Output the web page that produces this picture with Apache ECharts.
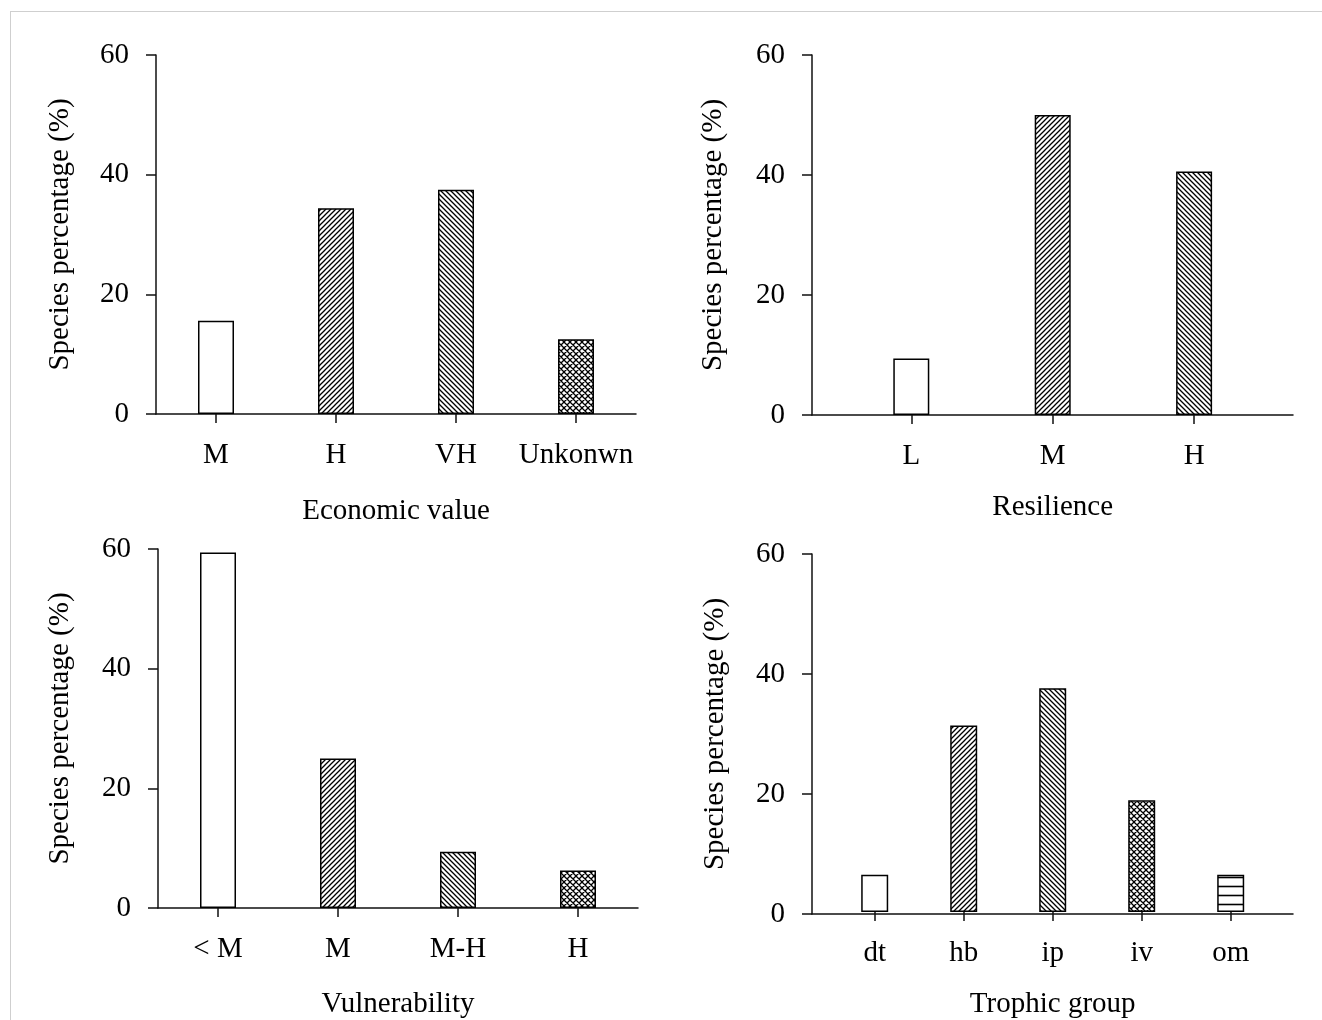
<!DOCTYPE html>
<html><head><meta charset="utf-8">
<script src="https://cdn.jsdelivr.net/npm/echarts@6/dist/echarts.min.js"></script>
<style>
html,body{margin:0;padding:0;background:#fff;overflow:hidden;}
#frame{position:absolute;left:10px;top:11px;width:1320px;height:1020px;border-left:1px solid #cfcfcf;border-top:1px solid #cfcfcf;}
#chart{position:absolute;left:0;top:0;width:1322px;height:1020px;}
</style></head><body>
<div id="frame"></div><div id="chart"></div>
<script>
// ---- data ----
const econCategories = ['M', 'H', 'VH', 'Unkonwn'];
const econValues = [15.6, 34.4, 37.5, 12.5];
const resCategories = ['L', 'M', 'H'];
const resValues = [9.4, 50.0, 40.6];
const vulCategories = ['< M', 'M', 'M-H', 'H'];
const vulValues = [59.4, 25.0, 9.4, 6.25];
const troCategories = ['dt', 'hb', 'ip', 'iv', 'om'];
const troValues = [6.25, 31.25, 37.5, 18.75, 6.25];
const yMin = 0, yMax = 60, yStep = 20;
const yName = 'Species percentage (%)';
const xNames = ['Economic value', 'Resilience', 'Vulnerability', 'Trophic group'];

// ---- patterns ----
function makePattern(kind) {
  const s = kind === 'h' ? 9 : (kind === 'x' ? 6 : 5);
  const c = document.createElement('canvas');
  c.width = s; c.height = s;
  const g = c.getContext('2d');
  g.fillStyle = '#fff'; g.fillRect(0, 0, s, s);
  if (kind === 'none') return c;
  g.strokeStyle = '#000'; g.lineWidth = 1.3; g.beginPath();
  if (kind === 'f' || kind === 'x') {
    g.moveTo(-1, s + 1); g.lineTo(s + 1, -1);
    g.moveTo(-1, 1); g.lineTo(1, -1);
    g.moveTo(s - 1, s + 1); g.lineTo(s + 1, s - 1);
  }
  if (kind === 'b' || kind === 'x') {
    g.moveTo(-1, -1); g.lineTo(s + 1, s + 1);
    g.moveTo(-1, s - 1); g.lineTo(1, s + 1);
    g.moveTo(s - 1, -1); g.lineTo(s + 1, 1);
  }
  if (kind === 'h') {
    g.lineWidth = 1.6;
    g.moveTo(0, s / 2); g.lineTo(s, s / 2);
  }
  g.stroke();
  return c;
}
const patternKinds = ['none', 'f', 'b', 'x', 'h'];
const patterns = patternKinds.map(k => ({ image: makePattern(k), repeat: 'repeat' }));

const font = 'Liberation Serif';
const fs = 29;
const lineStyle = { color: '#111', width: 1.5 };

const panels = [
  { cats: econCategories, vals: econValues, name: xNames[0],
    outer: { left: 156, top: 55, width: 480, height: 359 }, inner: { left: 156, width: 480 }, barW: 36, xGap: 83, yGap: 81 },
  { cats: resCategories, vals: resValues, name: xNames[1],
    outer: { left: 812, top: 55, width: 481, height: 360 }, inner: { left: 840.6, width: 424.2 }, barW: 36, xGap: 78, yGap: 84 },
  { cats: vulCategories, vals: vulValues, name: xNames[2],
    outer: { left: 158, top: 549, width: 480, height: 359 }, inner: { left: 158, width: 480 }, barW: 36, xGap: 82, yGap: 83 },
  { cats: troCategories, vals: troValues, name: xNames[3],
    outer: { left: 812, top: 554, width: 481, height: 360 }, inner: { left: 830.2, width: 445 }, barW: 27, xGap: 78, yGap: 82 }
];

const grid = [], xAxis = [], yAxis = [], series = [];
panels.forEach((p, i) => {
  const go = grid.length;
  grid.push({ left: p.outer.left, top: p.outer.top, width: p.outer.width, height: p.outer.height });
  grid.push({ left: p.inner.left, top: p.outer.top, width: p.inner.width, height: p.outer.height });
  // outer: axis frame + y axis
  xAxis.push({ gridIndex: go, type: 'value', min: 0, max: 1,
    axisLine: { show: true, lineStyle }, axisTick: { show: false }, axisLabel: { show: false }, splitLine: { show: false } });
  yAxis.push({ gridIndex: go, type: 'value', min: yMin, max: yMax, interval: yStep,
    axisLine: { show: true, lineStyle }, axisTick: { show: true, inside: false, length: 10, lineStyle },
    axisLabel: { margin: 27, color: '#000', fontSize: fs, fontFamily: font },
    splitLine: { show: false },
    name: yName, nameLocation: 'middle', nameGap: p.yGap,
    nameTextStyle: { color: '#000', fontSize: fs, fontFamily: font } });
  // inner: categories and bars
  xAxis.push({ gridIndex: go + 1, type: 'category', data: p.cats,
    axisLine: { show: false }, axisTick: { show: true, alignWithLabel: true, length: 9, lineStyle },
    axisLabel: { margin: 27, color: '#000', fontSize: fs, fontFamily: font, interval: 0 },
    splitLine: { show: false },
    name: p.name, nameLocation: 'middle', nameGap: p.xGap,
    nameTextStyle: { color: '#000', fontSize: fs, fontFamily: font } });
  yAxis.push({ gridIndex: go + 1, type: 'value', min: yMin, max: yMax, show: false });
  series.push({ type: 'bar', xAxisIndex: go + 1, yAxisIndex: go + 1, barWidth: p.barW,
    itemStyle: { borderColor: '#000', borderWidth: 1.5 },
    data: p.vals.map((v, k) => ({ value: v, itemStyle: { color: patterns[k] } })) });
});

const chart = echarts.init(document.getElementById('chart'), null, { renderer: 'canvas' });
chart.setOption({ animation: false, grid, xAxis, yAxis, series });
</script>
</body></html>
